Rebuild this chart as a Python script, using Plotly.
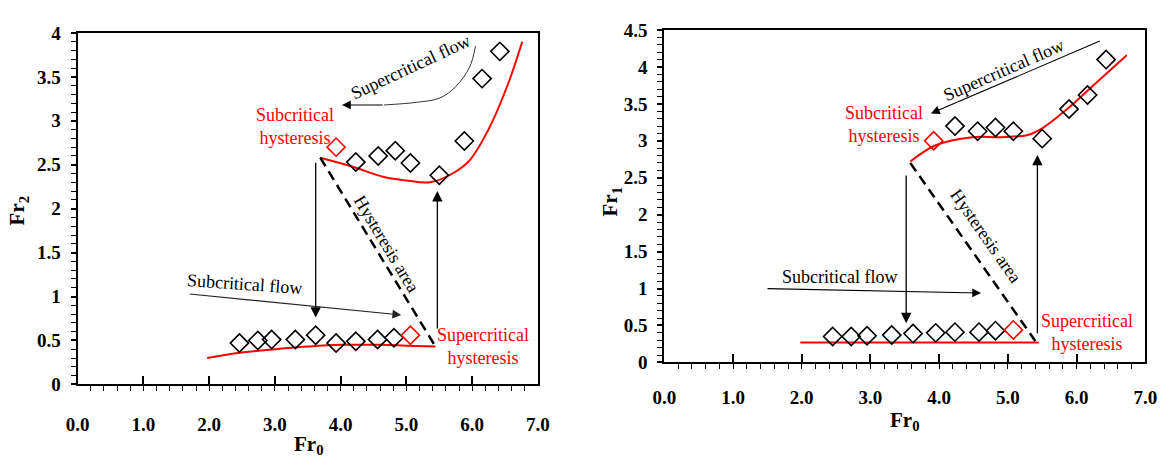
import plotly.graph_objects as go

# ---------------- data ----------------
# Left panel: Fr2 vs Fr0
fr0_sub_left = [2.46, 2.74, 2.95, 3.31, 3.62, 3.93, 4.23, 4.56, 4.81]
fr2_sub_left = [0.47, 0.50, 0.51, 0.51, 0.56, 0.47, 0.49, 0.51, 0.53]
fr0_sup_left = [4.23, 4.57, 4.83, 5.06, 5.50, 5.88, 6.15, 6.42]
fr2_sup_left = [2.53, 2.60, 2.66, 2.52, 2.38, 2.77, 3.48, 3.79]
fr0_hyst_left = [3.93, 5.06]
fr2_hyst_left = [2.70, 0.56]
curve_low_x_left = [1.97, 2.47, 3.0, 3.5, 4.0, 4.6, 5.0, 5.44]
curve_low_y_left = [0.30, 0.36, 0.40, 0.43, 0.45, 0.45, 0.44, 0.43]
curve_up_x_left = [3.69, 4.17, 4.66, 5.0, 5.36, 5.7, 5.96, 6.26, 6.55, 6.76]
curve_up_y_left = [2.58, 2.48, 2.36, 2.32, 2.30, 2.40, 2.55, 2.92, 3.43, 3.90]
dash_x_left = [3.69, 5.45]
dash_y_left = [2.58, 0.42]
supflow_x_left = [6.05, 5.96, 5.75, 5.51, 5.15, 4.66]
supflow_y_left = [3.85, 3.61, 3.39, 3.26, 3.21, 3.18]

# Right panel: Fr1 vs Fr0
fr0_sub_right = [2.45, 2.72, 2.95, 3.31, 3.62, 3.95, 4.23, 4.58, 4.82]
fr1_sub_right = [0.35, 0.35, 0.36, 0.37, 0.39, 0.40, 0.41, 0.41, 0.43]
fr0_sup_right = [4.23, 4.56, 4.82, 5.08, 5.50, 5.89, 6.16, 6.43]
fr1_sup_right = [3.20, 3.13, 3.18, 3.13, 3.03, 3.43, 3.62, 4.10]
fr0_hyst_right = [3.92, 5.08]
fr1_hyst_right = [3.00, 0.44]
curve_low_x_right = [1.98, 5.45]
curve_low_y_right = [0.27, 0.27]
curve_up_x_right = [3.58, 3.95, 4.48, 4.90, 5.29, 5.5, 5.90, 6.23, 6.73]
curve_up_y_right = [2.72, 2.94, 3.05, 3.05, 3.08, 3.17, 3.46, 3.74, 4.16]
dash_x_right = [3.58, 5.40]
dash_y_right = [2.70, 0.29]

x_ticks = [0, 1, 2, 3, 4, 5, 6, 7]
x_tick_labels = ["0.0", "1.0", "2.0", "3.0", "4.0", "5.0", "6.0", "7.0"]
y_ticks_left = [0, 0.5, 1, 1.5, 2, 2.5, 3, 3.5, 4]
y_ticks_right = [0, 0.5, 1, 1.5, 2, 2.5, 3, 3.5, 4, 4.5]

# ---------------- figure ----------------
FONT = "Liberation Serif, Times New Roman, serif"
RED = "#ff0000"
fig = go.Figure()

def diamonds(x, y, color, xa, ya):
    fig.add_trace(go.Scatter(x=x, y=y, mode="markers", xaxis=xa, yaxis=ya,
                             marker=dict(symbol="diamond-open", size=14, color=color,
                                         line=dict(width=1.6, color=color)),
                             showlegend=False, hoverinfo="skip"))

def line(x, y, xa, ya, color=RED, width=2, dash=None, shape="spline"):
    fig.add_trace(go.Scatter(x=x, y=y, mode="lines", xaxis=xa, yaxis=ya,
                             line=dict(color=color, width=width, dash=dash, shape=shape, smoothing=1.0),
                             showlegend=False, hoverinfo="skip"))

# left
line(curve_low_x_left, curve_low_y_left, "x", "y")
line(curve_up_x_left, curve_up_y_left, "x", "y")
line(dash_x_left, dash_y_left, "x", "y", color="black", width=2.5, dash="10px,6px", shape="linear")
line(supflow_x_left, supflow_y_left, "x", "y", color="#333333", width=1, shape="spline")
diamonds(fr0_sub_left, fr2_sub_left, "black", "x", "y")
diamonds(fr0_sup_left, fr2_sup_left, "black", "x", "y")
diamonds(fr0_hyst_left, fr2_hyst_left, RED, "x", "y")

# right
line(curve_low_x_right, curve_low_y_right, "x2", "y2", shape="linear")
line(curve_up_x_right, curve_up_y_right, "x2", "y2")
line(dash_x_right, dash_y_right, "x2", "y2", color="black", width=2.5, dash="10px,6px", shape="linear")
diamonds(fr0_sub_right, fr1_sub_right, "black", "x2", "y2")
diamonds(fr0_sup_right, fr1_sup_right, "black", "x2", "y2")
diamonds(fr0_hyst_right, fr1_hyst_right, RED, "x2", "y2")

ann = []

def arrow(xr, yr, x0, y0, x1, y1, width=1.2, color="black", size=1.6):
    ann.append(dict(x=x1, y=y1, ax=x0, ay=y0, xref=xr, yref=yr, axref=xr, ayref=yr,
                    showarrow=True, arrowhead=2, arrowsize=size, arrowwidth=width,
                    arrowcolor=color, text="", standoff=0))

def label(xr, yr, x, y, text, color="black", angle=0, size=18):
    ann.append(dict(x=x, y=y, xref=xr, yref=yr, text=text, showarrow=False,
                    xanchor="center", yanchor="middle",
                    textangle=angle, font=dict(family=FONT, size=size, color=color)))

# left arrows
arrow("x", "y", 1.68, 1.03, 4.92, 0.79, width=1.1, color="#222222")
arrow("x", "y", 3.62, 2.54, 3.62, 0.76, width=1.3)
arrow("x", "y", 5.47, 0.62, 5.47, 2.20, width=1.3)
arrow("x", "y", 4.66, 3.18, 4.02, 3.18, width=1.1)
# left labels
label("x", "y", 3.31, 2.93, "Subcritical<br>hysteresis", RED)
label("x", "y", 6.17, 0.43, "Supercritical<br>hysteresis", RED)
label("x", "y", 2.53, 1.14, "Subcritical flow", angle=4)
label("x", "y", 5.06, 3.61, "Supercritical flow", angle=-25)
label("x", "y", 4.70, 1.60, "Hysteresis area", angle=59)

# right arrows
arrow("x2", "y2", 1.48, 1.00, 4.61, 0.94, width=1.1)
arrow("x2", "y2", 6.36, 4.36, 3.88, 3.37, width=1.1)
arrow("x2", "y2", 3.52, 2.55, 3.52, 0.53, width=1.3)
arrow("x2", "y2", 5.43, 0.375, 5.43, 2.81, width=1.3)
# right labels
label("x2", "y2", 3.19, 3.22, "Subcritical<br>hysteresis", RED)
label("x2", "y2", 6.15, 0.40, "Supercritical<br>hysteresis", RED)
label("x2", "y2", 2.55, 1.15, "Subcritical flow")
label("x2", "y2", 4.94, 3.96, "Supercritical flow", angle=-23.6)
label("x2", "y2", 4.68, 1.71, "Hysteresis area", angle=55)

# axis titles
def title(x, y, text, angle=0):
    ann.append(dict(x=x, y=y, xref="paper", yref="paper", text=text, showarrow=False,
                    xanchor="center", yanchor="middle",
                    textangle=angle, font=dict(family=FONT, size=21, color="black")))

title(303 / 1170, 1 - 455 / 467, "<b>Fr<sub>0</sub></b>")
title(6 / 1170, 1 - 210 / 467, "<b>Fr<sub>2</sub></b>", angle=-90)
title(612 / 1170, 1 - 200 / 467, "<b>Fr<sub>1</sub></b>", angle=-90)
title(912 / 1170, 1 - 430 / 467, "<b>Fr<sub>0</sub></b>")

tickfont = dict(family=FONT, size=19, color="black")

def bold(labels):
    return ["<b>%s</b>" % t for t in labels]

def xaxis(domain, anchor, standoff):
    return dict(domain=domain, anchor=anchor, range=[0, 7],
                tickvals=x_ticks, ticktext=bold(x_tick_labels),
                showgrid=False, zeroline=False, showline=True, linecolor="black", linewidth=2,
                mirror=True, ticks="inside", ticklen=8, tickwidth=1.5, tickcolor="black",
                tickfont=tickfont, ticklabelstandoff=standoff,
                minor=dict(dtick=0.2, ticks="outside", ticklen=5, tickwidth=1.2, tickcolor="black"))

def yaxis(domain, anchor, top, ticks):
    return dict(domain=domain, anchor=anchor, range=[0, top],
                tickvals=ticks, ticktext=bold([("%g" % v) for v in ticks]),
                showgrid=False, zeroline=False, showline=True, linecolor="black", linewidth=2,
                mirror=True, ticks="outside", ticklen=5, tickwidth=1.5, tickcolor="black",
                tickfont=tickfont, ticklabelstandoff=6,
                minor=dict(dtick=0.1, ticks="outside", ticklen=5, tickwidth=1.2, tickcolor="black"))

fig.update_layout(
    width=1170, height=467, margin=dict(l=0, r=0, t=0, b=0),
    paper_bgcolor="white", plot_bgcolor="white", showlegend=False,
    xaxis=xaxis([67 / 1170, 537 / 1170], "y", 22),
    yaxis=yaxis([1 - 392 / 467, 1 - 24 / 467], "x", 4, y_ticks_left),
    xaxis2=xaxis([666 / 1170, 1157 / 1170], "y2", 17),
    yaxis2=yaxis([1 - 369 / 467, 1 - 21 / 467], "x2", 4.5, y_ticks_right),
    annotations=ann,
)

fig.write_html("out.html")
